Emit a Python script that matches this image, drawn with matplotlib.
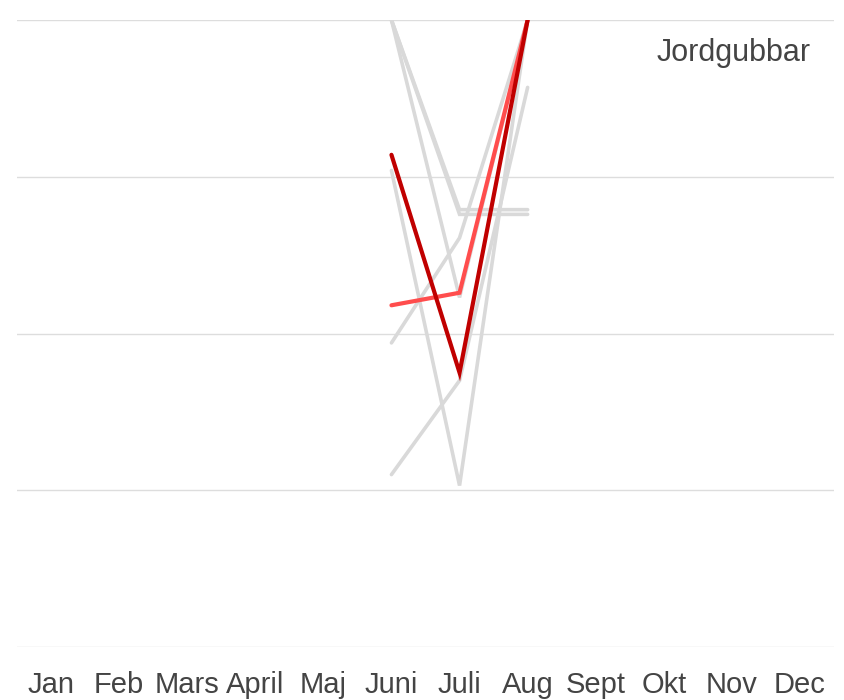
import numpy as np
import matplotlib
matplotlib.use("Agg")
import matplotlib.pyplot as plt

plt.rcParams["font.family"] = ["Liberation Sans", "DejaVu Sans"]

# Months on the x axis
months = ["Jan", "Feb", "Mars", "April", "Maj", "Juni", "Juli", "Aug",
          "Sept", "Okt", "Nov", "Dec"]

# Season covered by the data: Juni, Juli, Aug
season_idx = [5, 6, 7]

# Earlier years (grey)
other_years = [
    [40.0, 27.9, 27.9],
    [40.0, 27.6, 27.6],
    [40.0, 22.3, 40.0],
    [30.4, 10.3, 40.0],
    [19.4, 26.1, 40.0],
    [11.0, 17.0, 35.7],
]

# Highlighted years
prev_year = [21.8, 22.6, 40.0]
this_year = [31.4, 17.5, 40.0]

title = "Jordgubbar"
yticks = [0, 10, 20, 30, 40]

fig = plt.figure(figsize=(8.44, 7.0), dpi=100)
ax = fig.add_axes([17 / 844, 53 / 700, 817 / 844, 627 / 700])

for vals in other_years:
    ax.plot(season_idx, vals, color="#d9d9d9", linewidth=2.6,
            solid_capstyle="round", solid_joinstyle="miter", zorder=2)

ax.plot(season_idx, prev_year, color="#ff4d4d", linewidth=3.0,
        solid_capstyle="round", solid_joinstyle="miter", zorder=3)
ax.plot(season_idx, this_year, color="#c00000", linewidth=3.0,
        solid_capstyle="round", solid_joinstyle="miter", zorder=4)

ax.set_xlim(-0.5, 11.5)
ax.set_ylim(0, 40)
ax.set_xticks(range(len(months)))
ax.set_xticklabels(months, fontsize=21, color="#444444")
ax.set_yticks(yticks)
ax.set_yticklabels([])
ax.tick_params(axis="both", length=0)
ax.tick_params(axis="x", pad=17)
ax.grid(axis="y", color="#dddddd", linewidth=1)
ax.set_axisbelow(True)
for s in ax.spines.values():
    s.set_visible(False)

ax.text(0.971, 0.948, title, transform=ax.transAxes, ha="right", va="center",
        fontsize=22, color="#444444")

fig.savefig("out.png", dpi=100)
